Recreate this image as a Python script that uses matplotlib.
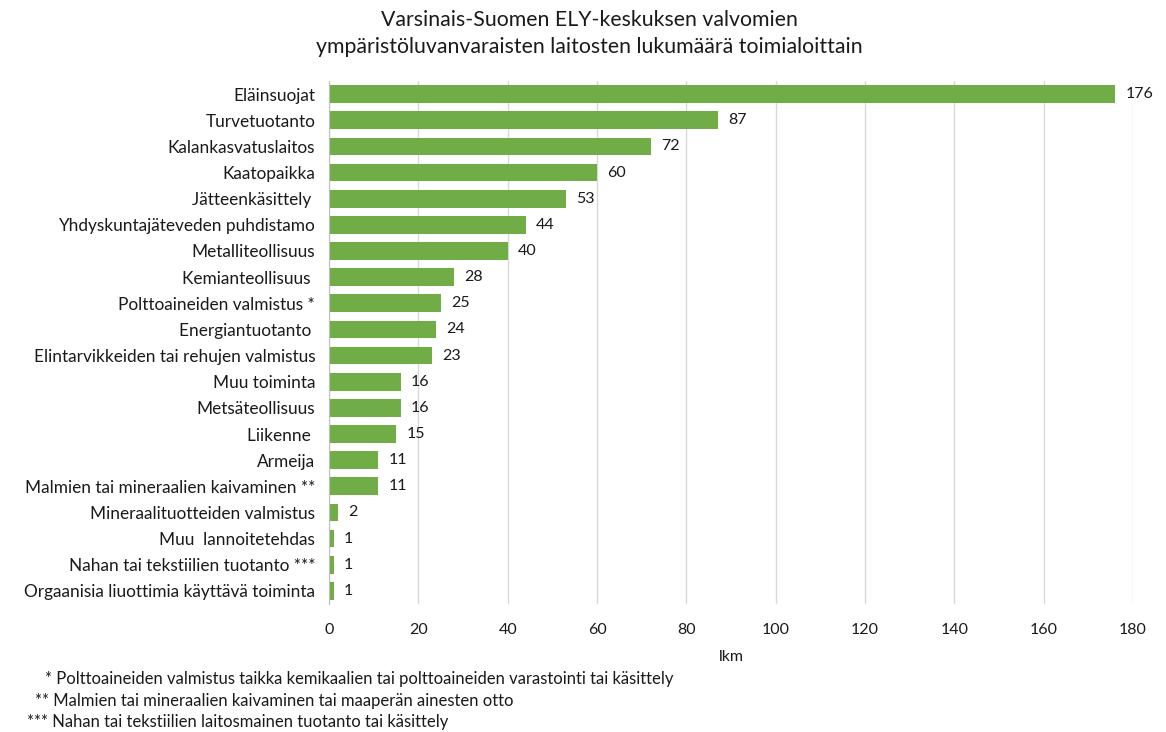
import matplotlib
matplotlib.use("Agg")
import matplotlib.pyplot as plt

categories = [
    "Eläinsuojat", "Turvetuotanto", "Kalankasvatuslaitos", "Kaatopaikka",
    "Jätteenkäsittely ", "Yhdyskuntajäteveden puhdistamo", "Metalliteollisuus",
    "Kemianteollisuus ", "Polttoaineiden valmistus *", "Energiantuotanto ",
    "Elintarvikkeiden tai rehujen valmistus", "Muu toiminta", "Metsäteollisuus",
    "Liikenne ", "Armeija", "Malmien tai mineraalien kaivaminen **",
    "Mineraalituotteiden valmistus", "Muu  lannoitetehdas",
    "Nahan tai tekstiilien tuotanto ***", "Orgaanisia liuottimia käyttävä toiminta",
]
values = [176, 87, 72, 60, 53, 44, 40, 28, 25, 24, 23, 16, 16, 15, 11, 11, 2, 1, 1, 1]
xticks = [0, 20, 40, 60, 80, 100, 120, 140, 160, 180]
title_lines = ["Varsinais-Suomen ELY-keskuksen valvomien",
               "ympäristöluvanvaraisten laitosten lukumäärä toimialoittain"]
xlabel = "lkm"
footnotes = [
    "* Polttoaineiden valmistus taikka kemikaalien tai polttoaineiden varastointi tai käsittely",
    "** Malmien tai mineraalien kaivaminen tai maaperän ainesten otto",
    "*** Nahan tai tekstiilien laitosmainen tuotanto tai käsittely",
]

plt.rcParams['font.family'] = ['Lato', 'DejaVu Sans']
TXT = "#1a1a1a"
fig = plt.figure(figsize=(11.66, 7.32), dpi=100)
ax = fig.add_axes([0.2822, 0.1749, 0.6895, 0.7144])

y = list(range(len(categories)))
ax.barh(y, values, height=0.68, color="#70AD47", zorder=3)
for yi, v in zip(y, values):
    ax.text(v + 2.3, yi, str(v), va="center", ha="left", fontsize=11.5, color=TXT)

ax.set_yticks(y)
ax.set_yticklabels(categories, fontsize=12.4, color=TXT)
ax.set_ylim(len(categories) - 0.5, -0.5)
ax.set_xlim(0, 180)
ax.set_xticks(xticks)
ax.set_xticklabels([str(t) for t in xticks], fontsize=11.5, color=TXT)
ax.tick_params(axis="y", length=0, pad=10)
ax.tick_params(axis="x", length=0, pad=14)
ax.grid(axis="x", color="#D9D9D9", linewidth=1, zorder=0)
for s in ["top", "right", "bottom"]:
    ax.spines[s].set_visible(False)
ax.spines["left"].set_color("#BFBFBF")
ax.spines["left"].set_zorder(4)
ax.set_xlabel(xlabel, fontsize=11.5, color=TXT, labelpad=9)

fig.text(589 / 1166, 1 - 20 / 732, title_lines[0], ha="center", va="center", fontsize=15.3, color=TXT)
fig.text(589 / 1166, 1 - 47 / 732, title_lines[1], ha="center", va="center", fontsize=15.3, color=TXT)

fn_x = [45, 35, 27]
fn_y = [679, 701, 722]
for t, xx, yy in zip(footnotes, fn_x, fn_y):
    fig.text(xx / 1166, 1 - yy / 732, t, ha="left", va="center", fontsize=12.0, color=TXT)

fig.savefig("out.png", dpi=100)
